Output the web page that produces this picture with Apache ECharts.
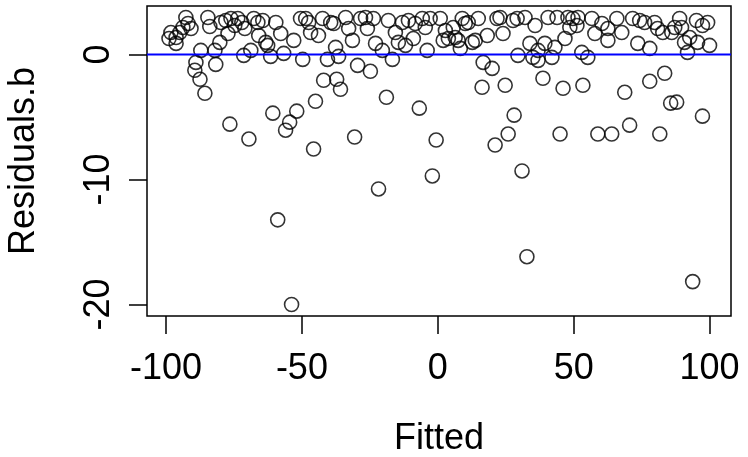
<!DOCTYPE html>
<html>
<head>
<meta charset="utf-8">
<script src="https://cdn.jsdelivr.net/npm/echarts@6.0.0/dist/echarts.min.js"></script>
<style>
  html, body { margin: 0; background: #fff; }
  #chart { width: 748px; height: 457px; }
</style>
</head>
<body>
<div id="chart"></div>
<script>
// values
const fitted = [
  -92.7, -84.6, -98.2, -96.3, -98.9, -96.3, -94.9, -93.8, -91.9, -90.8,
  -83.9, -79.8, -78.0, -76.1, -73.6, -72.1, -74.7, -77.2, -80.2, -82.0,
  -87.2, -89.0, -89.4, -87.5, -85.7, -81.7, -71.4, -71.0, -67.7, -66.2,
  -64.4, -65.9, -63.3, -62.6, -59.6, -57.8, -53.0, -68.8, -61.5, -56.7,
  -49.7, -40.6, -50.5, -48.6, -47.5, -46.8, -43.9, -42.4, -39.4, -38.3,
  -37.6, -36.5, -42.0, -37.2, -35.8, -45.0, -33.9, -32.8, -31.4, -29.5,
  -24.8, -18.9, -28.4, -26.6, -23.7, -25.9, -22.9, -20.4, -16.7, -18.2,
  -15.6, -14.5, -11.9, -13.0, -10.8, -8.3, -9.0, -5.7, -2.8, -4.6,
  -3.9, 0.9, 2.8, 2.0, 3.9, 5.7, 6.4, 7.5, 8.3, 9.0,
  10.1, 11.2, 12.7, 13.8, 14.9, 18.2, 16.7, 20.0, 16.3, 24.8,
  21.8, 22.9, 24.0, 27.7, 29.2, 32.1, 35.8, 33.9, 29.5, 35.0,
  36.9, 39.4, 43.1, 42.0, 36.9, 40.6, 43.9, 47.9, 49.7, 51.6,
  48.6, 51.2, 46.8, 56.7, 60.4, 62.6, 57.8, 62.6, 65.9, 67.7,
  71.7, 74.3, 76.1, 79.8, 80.9, 82.8, 86.1, 87.2, 89.0, 89.7,
  92.7, 90.8, 91.9, 95.2, 97.4, 99.3, 95.6, 100.0, 73.6, 78.0,
  53.0, 55.2, 38.7, 46.1, 53.4, 68.8, 78.0, 83.5, -76.5, -69.5,
  -60.7, -51.9, -54.5, -56.0, -45.7, -30.6, -6.8, -0.6, -2.0, -21.8,
  -58.9, -53.8, 21.1, 25.9, 28.1, 31.0, 32.8, 45.0, 58.9, 64.0,
  70.6, 81.7, 85.7, 87.9, 97.4, 93.8
];
const residuals = [
  2.95, 2.95, 1.75, 1.35, 1.27, 0.88, 1.75, 2.15, 2.47, 2.07,
  2.23, 2.55, 2.71, 2.87, 2.87, 2.55, 2.31, 1.67, 0.96, 0.32,
  0.32, -0.64, -1.27, -1.99, -3.11, -0.80, -0.08, 2.07, 2.87, 2.55,
  2.71, 1.51, 0.96, 0.72, 2.55, 1.67, 1.12, 0.32, -0.16, 0.08,
  -0.40, -0.40, 2.87, 2.87, 2.55, 1.75, 1.51, 2.87, 2.55, 2.47,
  0.56, -0.16, -2.07, -1.99, -2.79, -3.75, 2.95, 2.07, 1.12, -0.88,
  -1.35, -3.43, 2.87, 2.95, 2.87, 2.07, 0.88, 0.32, -0.40, 2.71,
  1.75, 0.96, 0.72, 2.55, 2.71, 2.47, 1.27, 2.87, 2.87, 2.15,
  0.32, 2.87, 1.91, 1.12, 1.27, 2.15, 1.35, 1.12, 0.48, 2.87,
  2.47, 2.55, 0.96, 1.12, 2.87, 1.51, -0.64, -1.12, -2.63, -2.47,
  2.87, 2.95, 1.67, 2.71, 2.87, 2.95, 2.31, 0.88, -0.08, -0.24,
  0.32, 0.88, 0.56, -0.24, -0.48, 2.95, 2.95, 2.95, 2.87, 2.95,
  2.15, 2.31, 1.27, 2.87, 2.47, 2.07, 1.67, 1.12, 2.87, 1.75,
  2.87, 2.71, 2.55, 2.55, 2.07, 1.75, 1.75, 2.15, 2.87, 2.15,
  1.35, 0.96, 0.16, 2.71, 2.31, 2.55, 0.96, 0.72, 0.88, 0.48,
  0.16, -0.24, -1.91, -2.71, -2.47, -3.03, -2.15, -1.51, -5.58, -6.77,
  -4.70, -4.54, -5.42, -6.06, -7.57, -6.61, -4.30, -6.85, -9.72, -10.76,
  -13.23, -20.0, -7.25, -6.37, -4.86, -9.32, -16.18, -6.37, -6.37, -6.37,
  -5.66, -6.37, -3.90, -3.82, -4.94, -18.17
];
const xTicks = [-100, -50, 0, 50, 100];
const yTicks = [-20, -10, 0];

const points = fitted.map((x, i) => [x, residuals[i]]);

const font = 'Liberation Sans, Arial, sans-serif';
const chart = echarts.init(document.getElementById('chart'), null, { renderer: 'canvas' });

chart.setOption({
  animation: false,
  backgroundColor: '#fff',
  grid: {
    left: 147, right: 17, top: 6, bottom: 141,
    outerBoundsMode: 'none',
    containLabel: false,
    show: true, borderColor: '#000', borderWidth: 1.5, backgroundColor: 'transparent'
  },
  xAxis: {
    type: 'value',
    min: -107, max: 107.9,
    splitLine: { show: false },
    axisLine: { show: false, onZero: false },
    axisTick: { show: true, length: 18, customValues: xTicks, lineStyle: { color: '#000', width: 1.5 } },
    axisLabel: { customValues: xTicks, fontSize: 36, color: '#000', fontFamily: font, margin: 35 },
    name: 'Fitted',
    nameLocation: 'middle',
    nameGap: 105,
    nameTextStyle: { fontSize: 36, color: '#000', fontFamily: font }
  },
  yAxis: {
    type: 'value',
    min: -20.92, max: 3.87,
    splitLine: { show: false },
    axisLine: { show: false, onZero: false },
    axisTick: { show: true, length: 18, customValues: yTicks, lineStyle: { color: '#000', width: 1.5 } },
    axisLabel: { customValues: yTicks, rotate: 90, fontSize: 36, color: '#000', fontFamily: font, margin: 30 },
    name: 'Residuals.b',
    nameLocation: 'middle',
    nameRotate: 90,
    nameGap: 105,
    nameTextStyle: { fontSize: 36, color: '#000', fontFamily: font }
  },
  series: [
    {
      type: 'scatter',
      data: points,
      symbol: 'circle',
      symbolSize: 14,
      itemStyle: { color: 'transparent', borderColor: '#000', borderWidth: 1.6 }
    },
    {
      type: 'line',
      data: [[-107, 0], [107.9, 0]],
      symbol: 'none',
      z: 5,
      lineStyle: { color: '#0000ff', width: 2 }
    }
  ]
});
</script>
</body>
</html>
